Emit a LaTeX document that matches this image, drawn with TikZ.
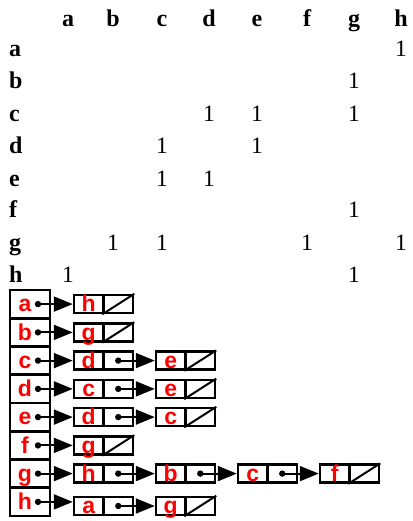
\documentclass[tikz,border=0pt]{standalone}
\usepackage{fontspec}
\setmainfont{Liberation Serif}
\newfontfamily\hv{Liberation Sans}
\usetikzlibrary{arrows.meta}
\newcommand\lnode[4]{%
  \node[half] (#1d) at (#2+14.75,#3) {};
  \node[half] (#1p) at (#2+44.25,#3) {};
  \node[lbl, anchor=base] (#1t) at ([yshift=-7.8pt]#1d.center) {#4};
}
\newcommand\nul[1]{\draw[line width=2pt] (#1p.south west) -- (#1p.north east);}
\newcommand\nxt[2]{\fill (#1p.center) circle (3.2pt); \draw[ptr] (#1p.center) -- (#2d.west);}
\begin{document}
\begin{tikzpicture}[x=1pt,y=-1pt,
  hdr/.style={font=\fontsize{24}{24}\selectfont\bfseries, anchor=base, inner sep=0},
  one/.style={font=\fontsize{23.5}{24}\selectfont, anchor=base, inner sep=0},
  cellbox/.style={draw, line width=2.5pt, minimum width=40pt, minimum height=28.25pt, inner sep=0},
  half/.style={draw, line width=2.5pt, minimum width=29.5pt, minimum height=18pt, inner sep=0},
  lbl/.style={text=red, font=\fontsize{23}{23}\selectfont\hv\bfseries, inner sep=0},
  ptr/.style={line width=2pt, -{Triangle[length=19pt,width=15pt]}},
]
\useasboundingbox (0,0) rectangle (412,521);

% matrix header
\foreach \c/\x in {a/68,b/113,c/162,d/209,e/257,f/307,g/354,h/401}
  \node[hdr] (col-\c) at (\x,27) {\c};
\foreach \r/\y in {a/57,b/89,c/121.5,d/153.5,e/186,f/218,g/250,h/282}
  \node[hdr, anchor=base west] (row-\r) at (9,\y) {\r};
% ones
\foreach \r/\c in {a/h,b/g,c/d,c/e,c/g,d/c,d/e,e/c,e/d,f/g,g/b,g/c,g/f,g/h,h/a,h/g}
  \node[one] (one-\r-\c) at (col-\c.base |- row-\r.base) {1};

% array
\foreach \n/\y in {a/304.1,b/332.4,c/360.6,d/388.9,e/417.1,f/445.4,g/473.6,h/501.9}{
  \node[cellbox] (arr-\n) at (30,\y) {};
  \node[lbl, anchor=base] (al-\n) at ([yshift=-7.8pt]25,\y) {\n};
  \coordinate (dot-\n) at (38,\y);
  \fill (dot-\n) circle (3.2pt);
}

% lists
\lnode{a1}{74}{304.1}{h} \nul{a1}
\lnode{b1}{74}{332.4}{g} \nul{b1}
\lnode{c1}{74}{360.6}{d} \lnode{c2}{156}{360.6}{e} \nxt{c1}{c2} \nul{c2}
\lnode{d1}{74}{388.9}{c} \lnode{d2}{156}{388.9}{e} \nxt{d1}{d2} \nul{d2}
\lnode{e1}{74}{417.1}{d} \lnode{e2}{156}{417.1}{c} \nxt{e1}{e2} \nul{e2}
\lnode{f1}{74}{445.4}{g} \nul{f1}
\lnode{g1}{74}{473.6}{h} \lnode{g2}{156}{473.6}{b} \lnode{g3}{238}{473.6}{c} \lnode{g4}{320}{473.6}{f}
\nxt{g1}{g2} \nxt{g2}{g3} \nxt{g3}{g4} \nul{g4}
\lnode{h1}{74}{506}{a} \lnode{h2}{156}{506}{g} \nxt{h1}{h2} \nul{h2}

\foreach \n in {a,b,c,d,e,f,g}
  \draw[ptr] (dot-\n) -- (\n1d.west);
\draw[ptr] (dot-h) -- (dot-h -| h1d.west);
\end{tikzpicture}
\end{document}
